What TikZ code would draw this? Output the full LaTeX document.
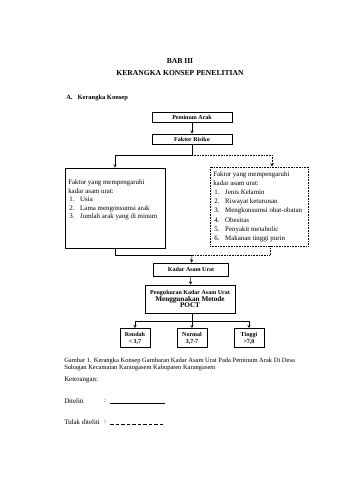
\documentclass[tikz,border=0pt]{standalone}
\usepackage{fontspec}
\setmainfont{Liberation Serif}

\tikzset{
  title/.style={font=\fontsize{7.6}{9}\selectfont\bfseries, inner sep=0pt},
  head/.style={font=\fontsize{6.5}{8}\selectfont\bfseries, inner sep=0pt},
  labelbox/.style={draw, line width=0.6pt, font=\fontsize{6}{7}\selectfont\bfseries, inner sep=1pt, align=center},
  factorbox/.style={draw, line width=0.6pt},
  txt/.style={font=\fontsize{6.9}{8.5}\selectfont, inner sep=0pt, align=left},
  notstudied/.style={densely dotted, line width=0.6pt},
}
\newcommand{\itm}[1]{\hspace{1pt}\makebox[11pt][l]{#1}}

\begin{document}
\begin{tikzpicture}[x=1pt, y=-1pt, line width=0.5pt]
  \useasboundingbox (0,0) rectangle (339,480);

  % Title
  \node[title] (bab) at (180,61) {BAB III};
  \node[title] (judul) at (180,73) {KERANGKA KONSEP PENELITIAN};
  \node[head, anchor=west] (subbab) at (66,98) {A.\hspace{5pt}Kerangka Konsep};

  % Top boxes
  \node[labelbox, minimum width=80, minimum height=10] (peminum) at (192,117.5) {Peminum Arak};
  \node[labelbox, minimum width=80, minimum height=10] (risiko) at (192,139) {Faktor Risiko};

  % Factor boxes
  \node[factorbox, minimum width=100, minimum height=80] (diteliti) at (115,208) {};
  \node[factorbox, notstudied, minimum width=98, minimum height=79] (tidak) at (259,206.5) {};

  \node[txt, anchor=north west] (isikiri) at (68,179.5) {Faktor yang mempengaruhi\\
    kadar asam urat:\\
    \itm{1.}Usia\\
    \itm{2.}Lama mengonsumsi arak\\
    \itm{3.}Jumlah arak yang di minum};
  \node[txt, anchor=north west, font=\fontsize{6.9}{9.1}\selectfont] (isikanan) at (213,171.5) {Faktor yang mempengaruhi\\
    kadar asam urat:\\
    \itm{1.}Jenis Kelamin\\
    \itm{2.}Riwayat keturunan\\
    \itm{3.}Mengkonsumsi obat-obatan\\
    \itm{4.}Obesitas\\
    \itm{5.}Penyakit metabolic\\
    \itm{6.}Makanan tinggi purin};

  % Lower boxes
  \node[labelbox, minimum width=75, minimum height=13] (kadar) at (191,269.5) {Kadar Asam Urat};
  \node[labelbox, minimum width=90, minimum height=28, inner sep=0pt] (ukur) at (190,299)
    {Pengukuran Kadar Asam Urat\\[-0.5pt]{\fontsize{7.2}{8}\selectfont Menggunakan Metode}\\[-0.5pt]{\fontsize{7.2}{8}\selectfont POCT}};
  \node[labelbox, minimum width=30, minimum height=19] (rendah) at (135,338) {Rendah\\ \textless{} 3,7};
  \node[labelbox, minimum width=30, minimum height=19] (normal) at (192,338) {Normal\\ 3,7-7};
  \node[labelbox, minimum width=30, minimum height=19] (tinggi) at (249,338) {Tinggi\\ \textgreater{}7,0};

  % Connectors
  \coordinate (split) at (192,155);
  \coordinate (join) at (192,255);
  \coordinate (fork) at (192,321);

  \draw[-stealth] (peminum) -- (risiko);
  \draw (risiko) -- (split);
  \draw[-stealth] (split) -| (diteliti.north);
  \draw[notstudied, -stealth] (split) -| ([xshift=13pt]tidak.north);
  \draw (diteliti.south) |- (join);
  \draw[notstudied] ([xshift=11pt]tidak.south) |- (join);
  \draw[-stealth] (join) -- (kadar);
  \draw[-stealth] (kadar) -- (ukur);
  \draw (ukur.south -| fork) -- (fork);
  \draw[-stealth] (fork) -| (rendah.north);
  \draw[-stealth] (fork) -- (normal);
  \draw[-stealth] (fork) -| (tinggi.north);

  % Caption and legend
  \node[txt, anchor=north west, font=\fontsize{6.5}{7.3}\selectfont] (gambar) at (64,357.5)
    {Gambar 1. Kerangka Konsep Gambaran Kadar Asam Urat Pada Peminum Arak Di Desa\\
     Subagan Kecamatan Karangasem Kabupaten Karangasem};
  \node[txt, anchor=west] (ket) at (64,380) {Keterangan:};

  \node[txt, anchor=west] (lbldit) at (64,401) {Diteliti};
  \node[txt] (titik1) at (105,401) {:};
  \node[txt, anchor=west] (lbltdk) at (64,422) {Tidak diteliti};
  \node[txt] (titik2) at (105,422) {:};

  \coordinate (a1) at (110,403);
  \coordinate (b1) at (165,403);
  \coordinate (a2) at (110,424);
  \coordinate (b2) at (163,424);
  \draw[line width=0.9pt] (a1) -- (b1);
  \draw[line width=0.9pt, dash pattern=on 3.5pt off 2pt] (a2) -- (b2);
\end{tikzpicture}
\end{document}
